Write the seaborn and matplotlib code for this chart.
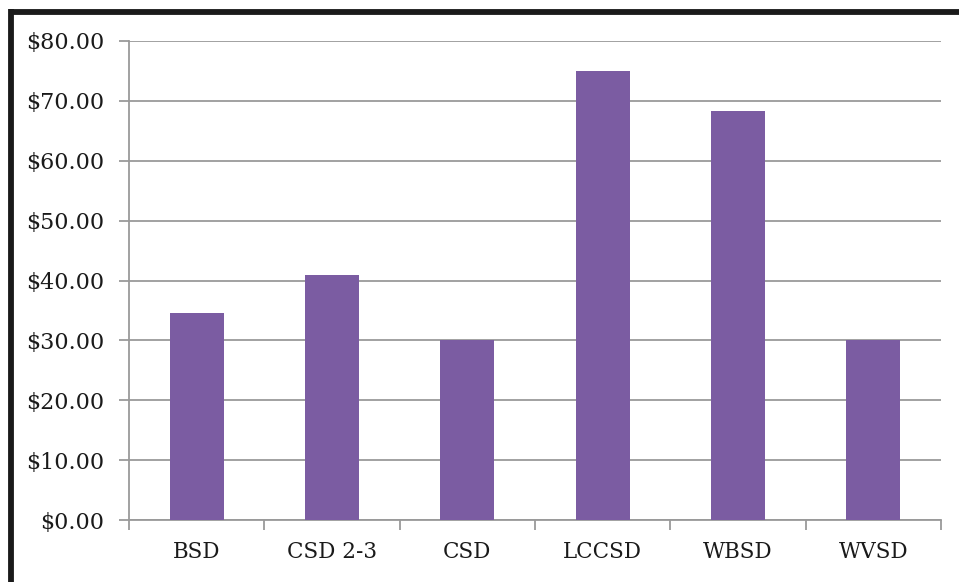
import matplotlib
matplotlib.use("Agg")
import matplotlib.pyplot as plt
from matplotlib.lines import Line2D
from matplotlib.ticker import MultipleLocator, FuncFormatter
import seaborn as sns
import pandas as pd

districts = ["BSD", "CSD 2-3", "CSD", "LCCSD", "WBSD", "WVSD"]
costs = [34.5, 41.0, 30.0, 75.0, 68.3, 30.0]

sns.set_theme(style="white")
plt.rcParams["font.family"] = ["DejaVu Serif"]

W, H, DPI = 959, 582, 100
fig = plt.figure(figsize=(W / DPI, H / DPI), dpi=DPI)
ax = fig.add_axes([129 / W, 1 - 520 / H, (941 - 129) / W, (520 - 41) / H])

df = pd.DataFrame({"district": districts, "cost": costs})
sns.barplot(data=df, x="district", y="cost", color="#7B5CA2", width=0.4,
            saturation=1, linewidth=0, ax=ax, zorder=3)

grid_c = "#9A9A9A"
ax.set_ylim(0, 80)
ax.set_xlim(-0.5, len(districts) - 0.5)
ax.yaxis.set_major_locator(MultipleLocator(10))
ax.yaxis.set_major_formatter(FuncFormatter(lambda v, p: f"${v:.2f}"))
ax.grid(axis="y", color=grid_c, linewidth=1.3, zorder=0)
ax.set_axisbelow(True)
ax.set_xlabel("")
ax.set_ylabel("")

for side in ("top", "right"):
    ax.spines[side].set_visible(False)
for side in ("left", "bottom"):
    ax.spines[side].set_color(grid_c)
    ax.spines[side].set_linewidth(1.3)

# tick marks on the category boundaries
ax.set_xticks([i - 0.5 for i in range(len(districts) + 1)], minor=True)
ax.tick_params(axis="x", which="minor", length=7, width=1.3, color=grid_c,
               direction="out", bottom=True)
ax.tick_params(axis="x", which="major", length=0, pad=15, labelsize=15.5,
               labelcolor="#1a1a1a")
ax.tick_params(axis="y", which="major", length=7, width=1.3, color=grid_c,
               direction="out", left=True, pad=11, labelsize=16,
               labelcolor="#1a1a1a")

# heavy frame along the top and left edges
fig.add_artist(Line2D([11 / W, 1], [1 - 11.5 / H, 1 - 11.5 / H],
                      transform=fig.transFigure, color="#1a1a1a", linewidth=4.2,
                      solid_capstyle="butt"))
fig.add_artist(Line2D([11 / W, 11 / W], [0, 1 - 9 / H],
                      transform=fig.transFigure, color="#1a1a1a", linewidth=4.2,
                      solid_capstyle="butt"))

fig.savefig("out.png", dpi=DPI)
